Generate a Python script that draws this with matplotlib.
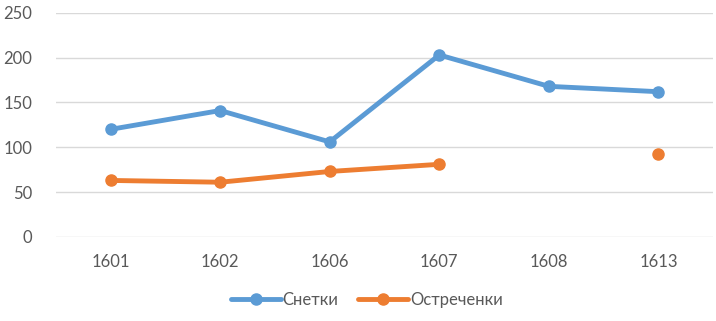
import matplotlib
matplotlib.use("Agg")
import matplotlib.pyplot as plt
import numpy as np

# data
years = ["1601", "1602", "1606", "1607", "1608", "1613"]
snetki = [120, 141, 106, 203, 168, 162]
ostrechenki = [63, 61, 73, 81, np.nan, 92]

blue = "#5B9BD5"
orange = "#ED7D31"
grey_text = "#595959"

plt.rcParams['font.family'] = ['Lato', 'DejaVu Sans']

fig = plt.figure(figsize=(7.16, 3.21), dpi=100)
ax = fig.add_axes([0.078, 0.262, 0.918, 0.698])

x = np.arange(len(years))
ax.plot(x, snetki, color=blue, lw=3.5, marker="o", ms=8, label="Снетки",
        solid_capstyle="round", zorder=3)
ax.plot(x, ostrechenki, color=orange, lw=3.5, marker="o", ms=8, label="Остреченки",
        solid_capstyle="round", zorder=3)

ax.set_xlim(-0.5, len(years) - 0.5)
ax.set_ylim(0, 250)
ax.set_yticks(np.arange(0, 251, 50))
ax.set_xticks(x)
ax.set_xticklabels(years)

ax.grid(axis="y", color="#D9D9D9", lw=1)
ax.set_axisbelow(True)
for s in ax.spines.values():
    s.set_visible(False)
ax.tick_params(length=0, labelsize=12, colors=grey_text)
ax.tick_params(axis="y", pad=17)
ax.tick_params(axis="x", pad=12)

leg = ax.legend(loc="center", bbox_to_anchor=(0.512, 0.065), bbox_transform=fig.transFigure,
                ncol=2, frameon=False, fontsize=12, handlelength=3.0, handletextpad=0.1,
                columnspacing=1.2)
for t in leg.get_texts():
    t.set_color(grey_text)

fig.savefig("out.png", dpi=100)
